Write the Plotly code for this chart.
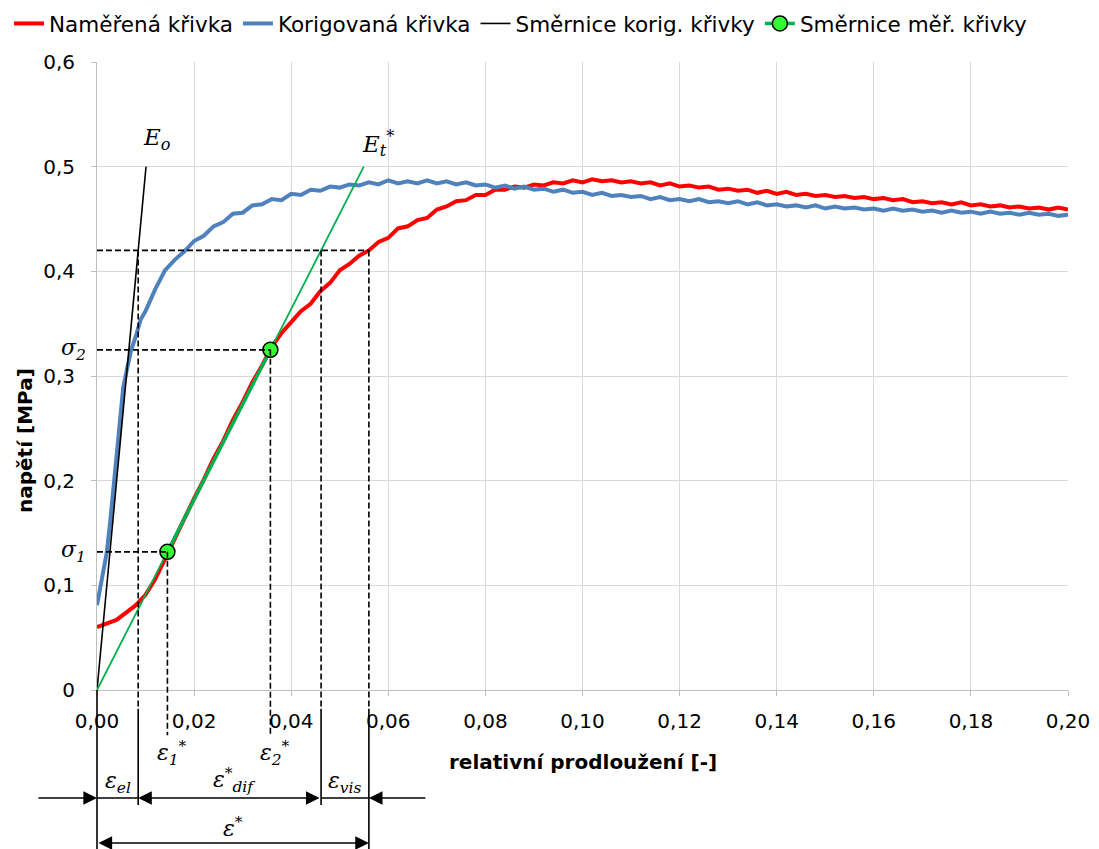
import plotly.graph_objects as go

# ---------------------------------------------------------------------------
# Axis ticks
# ---------------------------------------------------------------------------
x_tick_vals = [0.00, 0.02, 0.04, 0.06, 0.08, 0.10, 0.12, 0.14, 0.16, 0.18, 0.20]
x_tick_text = ["0,00", "0,02", "0,04", "0,06", "0,08", "0,10",
               "0,12", "0,14", "0,16", "0,18", "0,20"]
y_tick_vals = [0.0, 0.1, 0.2, 0.3, 0.4, 0.5, 0.6]
y_tick_text = ["0", "0,1", "0,2", "0,3", "0,4", "0,5", "0,6"]

X_MIN, X_MAX = 0.0, 0.20
Y_MIN, Y_MAX = 0.0, 0.60

# ---------------------------------------------------------------------------
# Measured stress-strain curve (strain sampled every 0.002)
# ---------------------------------------------------------------------------
stress_measured = [
    0.060, 0.063, 0.067, 0.074, 0.081, 0.091, 0.106, 0.125, 0.145, 0.164,
    0.183, 0.201, 0.221, 0.238, 0.258, 0.275, 0.294, 0.310, 0.328, 0.341,
    0.352, 0.362, 0.369, 0.381, 0.389, 0.401, 0.407, 0.415, 0.420, 0.428,
    0.432, 0.441, 0.443, 0.449, 0.451, 0.459, 0.462, 0.467, 0.468, 0.473,
    0.473, 0.478, 0.478, 0.481, 0.480, 0.483, 0.482, 0.485, 0.484, 0.487,
    0.485, 0.488, 0.486, 0.487, 0.485, 0.486, 0.484, 0.485, 0.482, 0.484,
    0.481, 0.482, 0.480, 0.481, 0.478, 0.479, 0.477, 0.478, 0.475, 0.477,
    0.474, 0.476, 0.473, 0.474, 0.472, 0.473, 0.471, 0.472, 0.470, 0.471,
    0.469, 0.470, 0.468, 0.469, 0.466, 0.467, 0.465, 0.466, 0.464, 0.466,
    0.463, 0.464, 0.462, 0.463, 0.461, 0.462, 0.460, 0.461, 0.459, 0.461,
    0.459,
]
strain_measured = [round(i * 0.002, 3) for i in range(len(stress_measured))]

# ---------------------------------------------------------------------------
# Corrected curve (denser sampling over the steep initial part)
# ---------------------------------------------------------------------------
strain_corrected_start = [0.0, 0.0006, 0.0012, 0.002, 0.0027, 0.0034, 0.004,
                          0.0047, 0.0054, 0.0062, 0.0070, 0.008, 0.009, 0.010]
stress_corrected_start = [0.081, 0.096, 0.112, 0.131, 0.160, 0.193, 0.228,
                          0.262, 0.289, 0.307, 0.324, 0.338, 0.354, 0.362]
stress_corrected_rest = [
    0.383, 0.401, 0.411, 0.419, 0.429, 0.434, 0.443, 0.447, 0.455, 0.456,
    0.463, 0.464, 0.469, 0.468, 0.474, 0.473, 0.478, 0.477, 0.481, 0.480,
    0.483, 0.482, 0.485, 0.483, 0.487, 0.484, 0.486, 0.484, 0.487, 0.484,
    0.486, 0.483, 0.485, 0.482, 0.483, 0.480, 0.482, 0.479, 0.481, 0.478,
    0.479, 0.476, 0.478, 0.475, 0.476, 0.473, 0.475, 0.472, 0.473, 0.471,
    0.472, 0.469, 0.471, 0.468, 0.469, 0.467, 0.469, 0.466, 0.467, 0.465,
    0.467, 0.464, 0.466, 0.463, 0.464, 0.462, 0.463, 0.461, 0.463, 0.460,
    0.462, 0.460, 0.461, 0.459, 0.460, 0.458, 0.460, 0.458, 0.459, 0.457,
    0.458, 0.456, 0.458, 0.456, 0.457, 0.455, 0.457, 0.455, 0.456, 0.454,
    0.456, 0.454, 0.455, 0.453, 0.454,
]
strain_corrected_rest = [round(0.012 + i * 0.002, 3)
                         for i in range(len(stress_corrected_rest))]
strain_corrected = strain_corrected_start + strain_corrected_rest
stress_corrected = stress_corrected_start + stress_corrected_rest

# ---------------------------------------------------------------------------
# Slopes and characteristic points
# ---------------------------------------------------------------------------
E0_SLOPE = 49.5          # slope of the corrected curve  (E_o)
ET_SLOPE = 9.1           # secant slope of the measured curve (E_t*)
SLOPE_LINE_TOP = 0.5     # stress where both slope lines end
SIGMA_1 = 0.132
SIGMA_2 = 0.325
SIGMA_REF = 0.42         # reference stress level for the strain split
EPS_TOTAL = 0.056        # strain of the measured curve at SIGMA_REF

eps_1 = SIGMA_1 / ET_SLOPE
eps_2 = SIGMA_2 / ET_SLOPE
eps_el = SIGMA_REF / E0_SLOPE
eps_t = SIGMA_REF / ET_SLOPE


def py(v):
    """Stress value -> paper y coordinate."""
    return (v - Y_MIN) / (Y_MAX - Y_MIN)


# paper-y levels below the x axis for the dimensioning
DASH_END = -0.03
EPS_LABEL_END = -0.072
DIM_1 = -0.172
DIM_2 = -0.2436
EXT_SHORT = -0.183
FIG_BOTTOM = -0.2532

RED = "#ff0000"
BLUE = "#4f81bd"
GREEN = "#00b050"
MARKER_GREEN = "#33ff33"
GRID = "#d9d9d9"
AXIS = "#bfbfbf"
SANS = "DejaVu Sans"
MATH = "DejaVu Serif"

fig = go.Figure()

fig.add_trace(go.Scatter(
    x=strain_measured, y=stress_measured, mode="lines",
    name="Naměřená křivka", line=dict(color=RED, width=4)))
fig.add_trace(go.Scatter(
    x=strain_corrected, y=stress_corrected, mode="lines",
    name="Korigovaná křivka", line=dict(color=BLUE, width=4)))
fig.add_trace(go.Scatter(
    x=[0, SLOPE_LINE_TOP / E0_SLOPE], y=[0, SLOPE_LINE_TOP], mode="lines",
    name="Směrnice korig. křivky", line=dict(color="black", width=1.6)))
fig.add_trace(go.Scatter(
    x=[0, SLOPE_LINE_TOP / ET_SLOPE], y=[0, SLOPE_LINE_TOP], mode="lines",
    showlegend=False, line=dict(color=GREEN, width=1.8)))
fig.add_trace(go.Scatter(
    x=[eps_1, eps_2], y=[SIGMA_1, SIGMA_2], mode="lines+markers",
    name="Směrnice měř. křivky", line=dict(color=GREEN, width=3.5),
    marker=dict(size=15, color=MARKER_GREEN,
                line=dict(color="black", width=1.5))))

shapes = []
dash = "6px,3px"


def seg(x0, y0, x1, y1, xref="x", yref="y", dashed=False, width=1.6):
    shapes.append(dict(type="line", xref=xref, yref=yref,
                       x0=x0, y0=y0, x1=x1, y1=y1,
                       line=dict(color="black", width=width,
                                 dash=dash if dashed else "solid")))


# dashed guide lines inside the plot
seg(0, SIGMA_REF, EPS_TOTAL, SIGMA_REF, dashed=True)
seg(0, SIGMA_2, eps_2, SIGMA_2, dashed=True)
seg(0, SIGMA_1, eps_1, SIGMA_1, dashed=True)
for xv in (eps_el, eps_t, EPS_TOTAL):
    seg(xv, py(SIGMA_REF), xv, DASH_END, yref="paper", dashed=True)
seg(eps_1, py(SIGMA_1), eps_1, EPS_LABEL_END, yref="paper", dashed=True)
seg(eps_2, py(SIGMA_2), eps_2, EPS_LABEL_END, yref="paper", dashed=True)

# extension lines below the axis
seg(0, 0, 0, FIG_BOTTOM, xref="paper", yref="paper")
seg(eps_el, DASH_END, eps_el, EXT_SHORT, yref="paper")
seg(eps_t, DASH_END, eps_t, EXT_SHORT, yref="paper")
seg(EPS_TOTAL, DASH_END, EPS_TOTAL, FIG_BOTTOM, yref="paper")

# plain parts of the first dimension line
seg(0, DIM_1, eps_el, DIM_1, yref="paper")
seg(eps_t, DIM_1, EPS_TOTAL, DIM_1, yref="paper")

annotations = []
arrow_style = dict(showarrow=True, arrowhead=2, arrowsize=1.7, arrowwidth=1.6,
                   arrowcolor="black", startarrowhead=2, startarrowsize=1.7,
                   standoff=0, startstandoff=0, text="")

# first dimension line: ε_el | ε*_dif | ε_vis
annotations.append(dict(x=0, y=DIM_1, xref="x", yref="paper",
                        ax=-60, ay=0, **arrow_style))
annotations.append(dict(x=eps_el, y=DIM_1, xref="x", yref="paper",
                        ax=eps_t, axref="x", ay=0, arrowside="end+start",
                        **arrow_style))
annotations.append(dict(x=EPS_TOTAL, y=DIM_1, xref="x", yref="paper",
                        ax=58, ay=0, **arrow_style))
# second dimension line: ε*
annotations.append(dict(x=EPS_TOTAL, y=DIM_2, xref="x", yref="paper",
                        ax=0, axref="x", ay=0, arrowside="end+start",
                        **arrow_style))


def label(text, x, y, xref="x", yref="y", xanchor="center", yanchor="middle",
          size=22):
    annotations.append(dict(text=text, x=x, y=y, xref=xref, yref=yref,
                            xanchor=xanchor, yanchor=yanchor,
                            showarrow=False,
                            font=dict(family=MATH, size=size, color="black",
                                      style="italic")))


label("ε<sub>el</sub>", eps_el / 2, -0.148, yref="paper")
label("ε<sup>*</sup><sub>dif</sub>", (eps_el + eps_t) / 2 + 0.001, -0.143,
      yref="paper")
label("ε<sub>vis</sub>", (eps_t + EPS_TOTAL) / 2, -0.148, yref="paper")
label("ε<sup>*</sup>", EPS_TOTAL / 2, -0.218, yref="paper")
label("ε<sub>1</sub><sup>*</sup>", eps_1 + 0.0009, -0.1, yref="paper")
label("ε<sub>2</sub><sup>*</sup>", eps_2 + 0.0009, -0.1, yref="paper")
label("σ<sub>1</sub>", -0.009, SIGMA_1, xref="paper", xanchor="right")
label("σ<sub>2</sub>", -0.009, SIGMA_2, xref="paper", xanchor="right")
label("E<sub>o</sub>", SLOPE_LINE_TOP / E0_SLOPE + 0.0022, 0.526, size=23)
label("E<sub>t</sub><sup>*</sup>", SLOPE_LINE_TOP / ET_SLOPE + 0.003, 0.522,
      size=23)

# axis titles
title_font = dict(family=SANS, size=20, color="black", weight="bold")
annotations.append(dict(text="napětí [MPa]", x=-0.0742, y=0.398,
                        xref="paper", yref="paper", textangle=-90,
                        xanchor="center", yanchor="middle",
                        showarrow=False, font=title_font))
annotations.append(dict(text="relativní prodloužení [-]", x=0.5,
                        y=-0.115, xref="paper", yref="paper",
                        xanchor="center", yanchor="middle",
                        showarrow=False, font=title_font))

axis_common = dict(showgrid=True, gridcolor=GRID, gridwidth=1,
                   showline=True, linecolor=AXIS, linewidth=1,
                   ticks="outside", ticklen=5, tickcolor=AXIS,
                   zeroline=False,
                   tickfont=dict(family=SANS, size=20, color="black"))

fig.update_layout(
    width=1099, height=849,
    margin=dict(l=97, r=31, t=62, b=159, autoexpand=False),
    plot_bgcolor="white", paper_bgcolor="white",
    xaxis=dict(range=[X_MIN, X_MAX], tickvals=x_tick_vals,
               ticktext=x_tick_text, ticklabelstandoff=8, **axis_common),
    yaxis=dict(range=[Y_MIN, Y_MAX], tickvals=y_tick_vals,
               ticktext=y_tick_text, ticklabelstandoff=12, **axis_common),
    # legend sits in the top margin, starting left of the plot area
    legend=dict(orientation="h", xref="paper", yref="paper",
                x=-0.0906, xanchor="left", y=1.094, yanchor="top",
                font=dict(family=SANS, size=21.5, color="black"),
                bgcolor="rgba(0,0,0,0)",
                itemwidth=30, tracegroupgap=0),
    shapes=shapes,
    annotations=annotations,
    showlegend=True,
)

fig.write_html("out.html")
